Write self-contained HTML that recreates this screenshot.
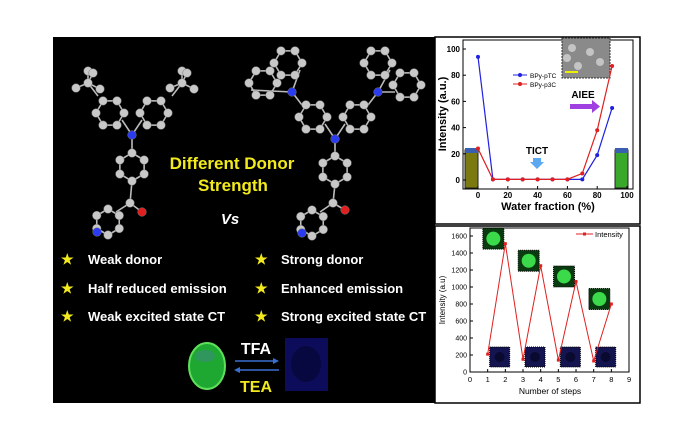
<!DOCTYPE html>
<html><head><meta charset="utf-8"><style>
html,body{margin:0;padding:0;background:#fff;width:690px;height:440px;overflow:hidden;font-family:"Liberation Sans",sans-serif}
svg{display:block}
</style></head><body>
<svg id="root" width="690" height="440" viewBox="0 0 690 440" xmlns="http://www.w3.org/2000/svg">
<rect x="0" y="0" width="690" height="440" fill="#fff"/>
<rect x="53" y="37" width="382" height="366" fill="#000"/>
<g id="mols"></g>
<text x="232" y="169" fill="#f2ea1c" font-size="17" font-weight="bold" text-anchor="middle">Different Donor</text>
<text x="233" y="191" fill="#f2ea1c" font-size="17" font-weight="bold" text-anchor="middle">Strength</text>
<text x="230" y="224" fill="#fff" font-size="15" font-weight="bold" font-style="italic" text-anchor="middle">Vs</text>
<g font-size="13" font-weight="bold" fill="#fff">
<text x="61" y="264" fill="#f2ea1c" font-size="14">★</text><text x="88" y="264">Weak donor</text>
<text x="61" y="293" fill="#f2ea1c" font-size="14">★</text><text x="88" y="293">Half reduced emission</text>
<text x="61" y="321" fill="#f2ea1c" font-size="14">★</text><text x="88" y="321">Weak excited state CT</text>
<text x="255" y="264" fill="#f2ea1c" font-size="14">★</text><text x="281" y="264">Strong donor</text>
<text x="255" y="293" fill="#f2ea1c" font-size="14">★</text><text x="281" y="293">Enhanced emission</text>
<text x="255" y="321" fill="#f2ea1c" font-size="14">★</text><text x="281" y="321">Strong excited state CT</text>
</g>
<ellipse cx="207" cy="366" rx="18" ry="23" fill="#1ea832" stroke="#5ee05a" stroke-width="2"/>
<ellipse cx="205" cy="356" rx="10" ry="6" fill="#3a8a7a" opacity="0.6"/>
<rect x="285" y="338" width="43" height="53" fill="#0c0c5a"/>
<ellipse cx="306" cy="364" rx="15" ry="18" fill="#080840"/>
<text x="256" y="354" fill="#fff" font-size="16" font-weight="bold" text-anchor="middle">TFA</text>
<text x="256" y="392" fill="#f2ea1c" font-size="16" font-weight="bold" text-anchor="middle">TEA</text>
<line x1="235" y1="361" x2="276" y2="361" stroke="#3a6fd0" stroke-width="1.5"/><polygon points="279,361 273,358 273,364" fill="#3a6fd0"/>
<line x1="238" y1="370" x2="279" y2="370" stroke="#3a6fd0" stroke-width="1.5"/><polygon points="234,370 240,367 240,373" fill="#3a6fd0"/>

<rect x="435" y="37" width="205" height="187" fill="#fff" stroke="#000" stroke-width="1.5"/>
<rect x="435" y="226" width="205" height="177" fill="#fff" stroke="#000" stroke-width="1.5"/>
<g id="chart1"></g>
<g id="chart2"></g>
</svg>
<script>
const NS="http://www.w3.org/2000/svg";
function mk(parent,tag,attrs,text){const e=document.createElementNS(NS,tag);for(const k in attrs)e.setAttribute(k,attrs[k]);if(text!==undefined)e.textContent=text;parent.appendChild(e);return e;}

// ---------- molecules ----------
const mols=document.getElementById('mols');
const bondsG=mk(mols,'g',{stroke:'#bbb','stroke-width':1.6});
const atomsG=mk(mols,'g',{});
function atom(x,y,c,r){mk(atomsG,'circle',{cx:x,cy:y,r:r||4.3,fill:c||'#c8c8c8',stroke:'#777','stroke-width':0.5});}
function bond(a,b){mk(bondsG,'line',{x1:a[0],y1:a[1],x2:b[0],y2:b[1]});}
function ring(cx,cy,r,rot){const p=[];for(let i=0;i<6;i++){const t=(rot+i*60)*Math.PI/180;p.push([cx+r*Math.cos(t),cy+r*Math.sin(t)]);}
 for(let i=0;i<6;i++)bond(p[i],p[(i+1)%6]);p.forEach(q=>atom(q[0],q[1]));return p;}
function carb(l,r,n){ring(l[0],l[1],14,0);ring(r[0],r[1],14,0);bond([l[0]+12,l[1]+7],n);bond([r[0]-12,r[1]+7],n);atom(n[0],n[1],'#2b3cf0');}
carb([110,113],[154,113],[132,135]);
bond([132,135],[132,153]);ring(132,167,14,90);bond([132,181],[130,203]);
atom(130,203);bond([130,203],[142,212]);atom(142,212,'#e02020');bond([130,203],[116,212]);ring(108,222,13,30);atom(97,232,'#2b3cf0');
[[88,83],[182,83]].forEach(t=>{bond(t,[t[0]+(t[0]<130?10:-10),t[1]+13]);[[-12,5],[0,-12],[12,6],[5,-10]].forEach(d=>{bond(t,[t[0]+d[0],t[1]+d[1]]);atom(t[0]+d[0],t[1]+d[1]);});atom(t[0],t[1]);});
carb([313,117],[357,117],[335,139]);
bond([335,139],[335,156]);ring(335,170,14,90);bond([335,184],[333,203]);
atom(333,203);bond([333,203],[345,210]);atom(345,210,'#e02020');bond([333,203],[320,212]);ring(312,223,13,30);atom(302,233,'#2b3cf0');
carb([288,63],[263,83],[292,92]);bond([292,92],[302,105]);
carb([378,63],[407,85],[378,92]);bond([378,92],[368,105]);

// ---------- chart 1 ----------
const c1Categories=[0,10,20,30,40,50,60,70,80,90];
const c1SeriesPTC=[94,0.5,0.5,0.5,0.5,0.5,0.5,0.5,19,55];
const c1SeriesP3C=[24,0.5,0.5,0.5,0.5,0.5,0.5,5,38,87];
const c1XTicks=[0,20,40,60,80,100];
const c1YTicks=[0,20,40,60,80,100];
const c1=document.getElementById('chart1');
const x1=v=>478+v*1.49, y1=v=>180-v*1.31;
mk(c1,'rect',{x:463,y:40,width:170,height:149,fill:'none',stroke:'#000','stroke-width':1});
const sem=mk(c1,'rect',{x:562,y:38,width:48,height:40,fill:'#8a8a8a',stroke:'#333','stroke-dasharray':'2,1'});


[[572,48],[590,52],[600,62],[578,66],[567,58]].forEach(p=>mk(c1,'circle',{cx:p[0],cy:p[1],r:4,fill:'#c4c4c4'}));
mk(c1,'line',{x1:565,y1:72,x2:578,y2:72,stroke:'#ee0','stroke-width':2});
const v1=mk(c1,'rect',{x:465,y:150,width:13,height:38,fill:'#7a7a10',stroke:'#222'});


const v2=mk(c1,'rect',{x:615,y:150,width:13,height:38,fill:'#3aa82a',stroke:'#222'});


mk(c1,'rect',{x:465,y:148,width:13,height:5,fill:'#3a5fb0'});mk(c1,'rect',{x:615,y:148,width:13,height:5,fill:'#3a5fb0'});
c1YTicks.forEach(t=>{mk(c1,'line',{x1:463,y1:y1(t),x2:466,y2:y1(t),stroke:'#000'});
 const tx=mk(c1,'text',{x:460,y:y1(t)+3,'font-size':8,'font-weight':'bold','text-anchor':'end'},t);
 
 });
c1XTicks.forEach(t=>{mk(c1,'line',{x1:x1(t),y1:189,x2:x1(t),y2:186,stroke:'#000'});
 const tx=mk(c1,'text',{x:x1(t),y:198,'font-size':8,'font-weight':'bold','text-anchor':'middle'},t);
 
 });
const xt1=mk(c1,'text',{x:548,y:210,'font-size':11,'font-weight':'bold','text-anchor':'middle'},'Water fraction (%)');


const yt1=mk(c1,'text',{x:0,y:0,'font-size':11,'font-weight':'bold','text-anchor':'middle',transform:'translate(446,114) rotate(-90)'},'Intensity (a.u.)');


function series(g,xs,ys,fx,fy,col,name,r){
 const pts=xs.map((c,i)=>fx(c)+','+fy(ys[i])).join(' ');
 const pl=mk(g,'polyline',{points:pts,fill:'none',stroke:col,'stroke-width':1.2});
 
 
 xs.forEach((c,i)=>{const p=mk(g,'circle',{cx:fx(c),cy:fy(ys[i]),r:r,fill:col});
  
  });
}
series(c1,c1Categories,c1SeriesPTC,x1,y1,'#2020e0','bpy-ptc',2);
series(c1,c1Categories,c1SeriesP3C,x1,y1,'#e02020','bpy-p3c',2);
const lg1=mk(c1,'g',{});


mk(lg1,'line',{x1:513,y1:75,x2:527,y2:75,stroke:'#2020e0'});mk(lg1,'circle',{cx:520,cy:75,r:2,fill:'#2020e0'});
mk(lg1,'text',{x:530,y:78,'font-size':6.5},'BPy-pTC');
mk(lg1,'line',{x1:513,y1:84,x2:527,y2:84,stroke:'#e02020'});mk(lg1,'circle',{cx:520,cy:84,r:2,fill:'#e02020'});
mk(lg1,'text',{x:530,y:87,'font-size':6.5},'BPy-p3C');
const ai=mk(c1,'text',{x:583,y:98,'font-size':10,'font-weight':'bold','text-anchor':'middle'},'AIEE');


mk(c1,'rect',{x:570,y:104,width:22,height:5,fill:'#a040e0'});mk(c1,'polygon',{points:'592,100 600,106.5 592,113',fill:'#a040e0'});
const ti=mk(c1,'text',{x:537,y:154,'font-size':10,'font-weight':'bold','text-anchor':'middle'},'TICT');


mk(c1,'polygon',{points:'533,158 541,158 541,162 544,162 537,169 530,162 533,162',fill:'#5aa8f0'});

// ---------- chart 2 ----------
const c2Steps=[1,2,3,4,5,6,7,8];
const c2Intensity=[210,1510,150,1250,140,1065,130,800];
const c2XTicks=[0,1,2,3,4,5,6,7,8,9];
const c2YTicks=[0,200,400,600,800,1000,1200,1400,1600];
const c2=document.getElementById('chart2');
const x2=v=>470+v*17.67, y2=v=>372-v*0.085;
mk(c2,'rect',{x:470,y:228,width:159,height:144,fill:'none',stroke:'#000','stroke-width':1});
c2YTicks.forEach(t=>{mk(c2,'line',{x1:470,y1:y2(t),x2:473,y2:y2(t),stroke:'#000'});
 const tx=mk(c2,'text',{x:467,y:y2(t)+2.5,'font-size':7,'text-anchor':'end'},t);
 
 });
c2XTicks.forEach(t=>{mk(c2,'line',{x1:x2(t),y1:372,x2:x2(t),y2:369,stroke:'#000'});
 const tx=mk(c2,'text',{x:x2(t),y:382,'font-size':7.5,'text-anchor':'middle'},t);
 
 });
const xt2=mk(c2,'text',{x:550,y:394,'font-size':8.5,'text-anchor':'middle'},'Number of steps');


const yt2=mk(c2,'text',{x:0,y:0,'font-size':8,'text-anchor':'middle',transform:'translate(445,300) rotate(-90)'},'Intensity (a.u)');


c2Steps.forEach((s,i)=>{
 if(i%2===1){const cx=x2(s)-12,cy=y2(c2Intensity[i])-5;
  const r=mk(c2,'rect',{x:cx-10.5,y:cy-10.5,width:21,height:21,fill:'#0a3a10',stroke:'#000','stroke-dasharray':'1,1'});
  
  
  mk(c2,'circle',{cx:cx,cy:cy,r:7,fill:'#3ada4a'});}
 else{const cx=x2(s)+12,cy=357;
  const r=mk(c2,'rect',{x:cx-10,y:cy-10,width:20,height:20,fill:'#141450',stroke:'#000','stroke-dasharray':'1,1'});
  
  
  mk(c2,'circle',{cx:cx,cy:cy,r:5,fill:'#0a0a30'});}
});
const pts2=c2Steps.map((s,i)=>x2(s)+','+y2(c2Intensity[i])).join(' ');
const l2=mk(c2,'polyline',{points:pts2,fill:'none',stroke:'#e02020','stroke-width':1});


c2Steps.forEach((s,i)=>{const p=mk(c2,'rect',{x:x2(s)-1.5,y:y2(c2Intensity[i])-1.5,width:3,height:3,fill:'#e02020'});
 
 });
const lg2=mk(c2,'g',{});


mk(lg2,'line',{x1:576,y1:234,x2:593,y2:234,stroke:'#e02020'});mk(lg2,'rect',{x:583,y:232.5,width:3,height:3,fill:'#e02020'});
mk(lg2,'text',{x:595,y:237,'font-size':7.5},'Intensity');
</script>
</body></html>
